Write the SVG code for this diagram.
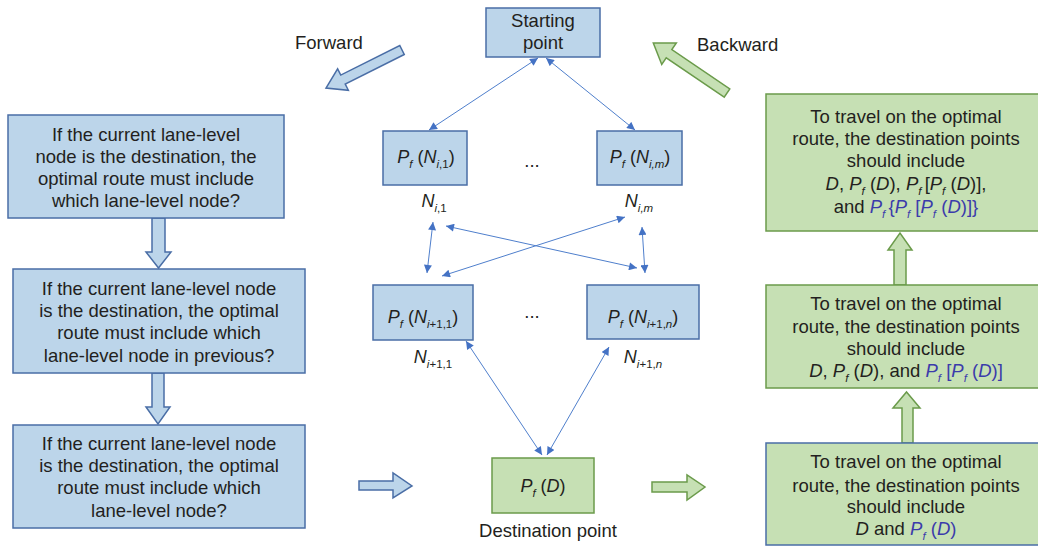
<svg xmlns="http://www.w3.org/2000/svg" width="1038" height="547" viewBox="0 0 1038 547">
  <style>
    text { font-family: "Liberation Sans", Arial, sans-serif; fill: #231f20; }
    .t { font-size: 18.5px; text-anchor: middle; }
    .m { font-size: 18px; text-anchor: middle; }
    .lbl { font-size: 18.5px; }
    .i { font-style: italic; }
    .sub { font-size: 11.5px; }
    .hl { fill: #3b3bab; }
    .bbox { fill: #bcd5ea; stroke: #4a6ea6; stroke-width: 1.5; }
    .gbox { fill: #c6e0b4; stroke: #6b9b4b; stroke-width: 1.5; }
    .barrow { fill: #bcd5ea; stroke: #4a6ea6; stroke-width: 1.5; stroke-linejoin: miter; }
    .garrow { fill: #c6e0b4; stroke: #6b9b4b; stroke-width: 1.5; stroke-linejoin: miter; }
    .link { stroke: #4f7fcc; stroke-width: 1; fill: none; marker-start: url(#ah); marker-end: url(#ah); }
  </style>
  <defs>
    <marker id="ah" viewBox="0 0 10 10" refX="10" refY="5" markerWidth="9" markerHeight="8" markerUnits="userSpaceOnUse" orient="auto-start-reverse">
      <path d="M0,0 L10,5 L0,10 z" fill="#4472c4"/>
    </marker>
  </defs>

  <!-- direction labels and block arrows -->
  <g id="forward">
    <text class="lbl" x="295" y="49">Forward</text>
    <polygon class="barrow" transform="translate(402,50) rotate(153.4)" points="0,-5 66,-5 66,-12 85,0 66,12 66,5 0,5"/>
  </g>
  <g id="backward">
    <text class="lbl" x="697" y="51">Backward</text>
    <polygon class="garrow" transform="translate(727,93) rotate(-145.9)" points="0,-5 70,-5 70,-13 89,0 70,13 70,5 0,5"/>
  </g>

  <!-- connectors -->
  <g id="connectors">
    <line class="link" x1="429" y1="130" x2="538" y2="58"/>
    <line class="link" x1="635" y1="130" x2="546" y2="58"/>
    <line class="link" x1="427" y1="273" x2="433" y2="222"/>
    <line class="link" x1="446" y1="226" x2="637" y2="268"/>
    <line class="link" x1="625" y1="217" x2="442" y2="276"/>
    <line class="link" x1="645" y1="273" x2="642" y2="227"/>
    <line class="link" x1="466" y1="341" x2="542" y2="455"/>
    <line class="link" x1="609" y1="347" x2="547" y2="455"/>
    <!-- left column arrows -->
    <polygon class="barrow" points="152,218 165,218 165,252 171,252 158.5,268 146,252 152,252"/>
    <polygon class="barrow" points="152,373 164,373 164,407 170,407 158,424 146,407 152,407"/>
    <!-- horizontal arrows -->
    <polygon class="barrow" points="359,481 393,481 393,473 412,486 393,498 393,490 359,490"/>
    <polygon class="garrow" points="652,482 687,482 687,475 705,487 687,500 687,492 652,492"/>
    <!-- right column arrows -->
    <polygon class="garrow" points="894,285 906,285 906,250 912,250 900,233 888,250 894,250"/>
    <polygon class="garrow" points="902,443 913,443 913,408 920,408 906.5,392 893,408 902,408"/>
  </g>

  <!-- forward reasoning column -->
  <g id="q1">
    <rect class="bbox" x="8" y="115" width="276" height="103"/>
    <text class="t" x="146" y="141">If the current lane-level</text>
    <text class="t" x="146" y="163">node is the destination, the</text>
    <text class="t" x="146" y="185">optimal route must include</text>
    <text class="t" x="146" y="207">which lane-level node?</text>
  </g>
  <g id="q2">
    <rect class="bbox" x="13" y="269" width="292" height="104"/>
    <text class="t" x="159" y="295">If the current lane-level node</text>
    <text class="t" x="159" y="317">is the destination, the optimal</text>
    <text class="t" x="159" y="339">route must include which</text>
    <text class="t" x="159" y="362">lane-level node in previous?</text>
  </g>
  <g id="q3">
    <rect class="bbox" x="13" y="425" width="292" height="103"/>
    <text class="t" x="159" y="450">If the current lane-level node</text>
    <text class="t" x="159" y="472">is the destination, the optimal</text>
    <text class="t" x="159" y="494">route must include which</text>
    <text class="t" x="159" y="517">lane-level node?</text>
  </g>

  <!-- search graph -->
  <g id="start">
    <rect class="bbox" x="486" y="8" width="114" height="49"/>
    <text class="t" x="543" y="27">Starting</text>
    <text class="t" x="543" y="49">point</text>
  </g>
  <g id="n-i-1">
    <rect class="bbox" x="383" y="131" width="84" height="54"/>
    <text class="m" x="426" y="163"><tspan class="i">P</tspan><tspan class="sub i" dy="5">f</tspan><tspan dy="-5"> (</tspan><tspan class="i">N</tspan><tspan class="sub" dy="5"><tspan class="i">i</tspan>,1</tspan><tspan dy="-5">)</tspan></text>
    <text class="m" x="434" y="207"><tspan class="i">N</tspan><tspan class="sub" dy="5"><tspan class="i">i</tspan>,1</tspan></text>
  </g>
  <g id="n-i-m">
    <rect class="bbox" x="597" y="131" width="85" height="54"/>
    <text class="m" x="640" y="163"><tspan class="i">P</tspan><tspan class="sub i" dy="5">f</tspan><tspan dy="-5"> (</tspan><tspan class="i">N</tspan><tspan class="sub i" dy="5">i,m</tspan><tspan dy="-5">)</tspan></text>
    <text class="m" x="639" y="207"><tspan class="i">N</tspan><tspan class="sub i" dy="5">i,m</tspan></text>
  </g>
  <text class="t" x="532" y="167">...</text>
  <g id="n-i1-1">
    <rect class="bbox" x="373" y="285" width="100" height="55"/>
    <text class="m" x="423" y="323"><tspan class="i">P</tspan><tspan class="sub i" dy="5">f</tspan><tspan dy="-5"> (</tspan><tspan class="i">N</tspan><tspan class="sub" dy="5"><tspan class="i">i</tspan>+1,1</tspan><tspan dy="-5">)</tspan></text>
    <text class="m" x="433" y="363"><tspan class="i">N</tspan><tspan class="sub" dy="5"><tspan class="i">i</tspan>+1,1</tspan></text>
  </g>
  <g id="n-i1-n">
    <rect class="bbox" x="587" y="285" width="112" height="54"/>
    <text class="m" x="643" y="323"><tspan class="i">P</tspan><tspan class="sub i" dy="5">f</tspan><tspan dy="-5"> (</tspan><tspan class="i">N</tspan><tspan class="sub" dy="5"><tspan class="i">i</tspan>+1,<tspan class="i">n</tspan></tspan><tspan dy="-5">)</tspan></text>
    <text class="m" x="643" y="363"><tspan class="i">N</tspan><tspan class="sub" dy="5"><tspan class="i">i</tspan>+1,<tspan class="i">n</tspan></tspan></text>
  </g>
  <text class="t" x="532" y="318">...</text>
  <g id="destination">
    <rect class="gbox" x="492" y="458" width="102" height="55"/>
    <text class="m" x="543" y="492"><tspan class="i">P</tspan><tspan class="sub i" dy="5">f</tspan><tspan dy="-5"> (</tspan><tspan class="i">D</tspan>)</text>
    <text class="t" x="548" y="537">Destination point</text>
  </g>

  <!-- backward reasoning column -->
  <g id="a3">
    <rect class="gbox" x="766" y="94" width="282" height="137"/>
    <text class="t" x="906" y="123">To travel on the optimal</text>
    <text class="t" x="906" y="145">route, the destination points</text>
    <text class="t" x="906" y="167">should include</text>
    <text class="t" x="906" y="190"><tspan class="i">D</tspan>, <tspan class="i">P</tspan><tspan class="sub i" dy="5">f</tspan><tspan dy="-5"> (</tspan><tspan class="i">D</tspan>), <tspan class="i">P</tspan><tspan class="sub i" dy="5">f </tspan><tspan dy="-5">[</tspan><tspan class="i">P</tspan><tspan class="sub i" dy="5">f</tspan><tspan dy="-5"> (</tspan><tspan class="i">D</tspan>)],</text>
    <text class="t" x="906" y="213">and <tspan class="i hl">P</tspan><tspan class="sub i hl" dy="5">f </tspan><tspan class="hl" dy="-5">{</tspan><tspan class="i hl">P</tspan><tspan class="sub i hl" dy="5">f</tspan><tspan class="hl" dy="-5"> [</tspan><tspan class="i hl">P</tspan><tspan class="sub i hl" dy="5">f</tspan><tspan class="hl" dy="-5"> (</tspan><tspan class="i hl">D</tspan><tspan class="hl">)]}</tspan></text>
  </g>
  <g id="a2">
    <rect class="gbox" x="766" y="285" width="282" height="103"/>
    <text class="t" x="906" y="310">To travel on the optimal</text>
    <text class="t" x="906" y="333">route, the destination points</text>
    <text class="t" x="906" y="355">should include</text>
    <text class="t" x="906" y="377"><tspan class="i">D</tspan>, <tspan class="i">P</tspan><tspan class="sub i" dy="5">f</tspan><tspan dy="-5"> (</tspan><tspan class="i">D</tspan>), and <tspan class="i hl">P</tspan><tspan class="sub i hl" dy="5">f</tspan><tspan class="hl" dy="-5"> [</tspan><tspan class="i hl">P</tspan><tspan class="sub i hl" dy="5">f</tspan><tspan class="hl" dy="-5"> (</tspan><tspan class="i hl">D</tspan><tspan class="hl">)]</tspan></text>
  </g>
  <g id="a1">
    <rect class="gbox" x="766" y="443" width="282" height="102" style="stroke:#4a6ea6"/>
    <text class="t" x="906" y="468">To travel on the optimal</text>
    <text class="t" x="906" y="492">route, the destination points</text>
    <text class="t" x="906" y="513">should include</text>
    <text class="t" x="906" y="535"><tspan class="i">D</tspan> and <tspan class="i hl">P</tspan><tspan class="sub i hl" dy="5">f</tspan><tspan class="hl" dy="-5"> (</tspan><tspan class="i hl">D</tspan><tspan class="hl">)</tspan></text>
  </g>
</svg>
